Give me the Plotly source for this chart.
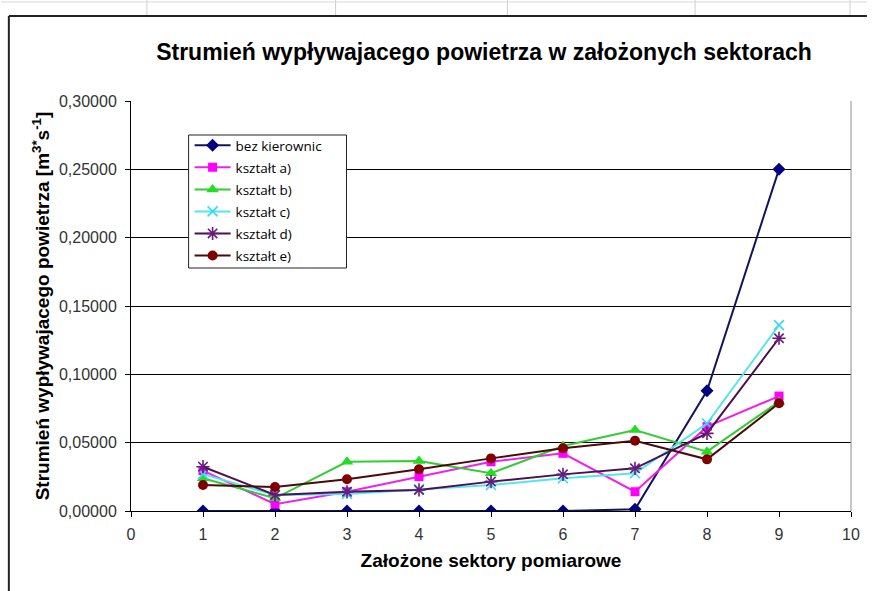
import plotly.graph_objects as go

sectors = [1, 2, 3, 4, 5, 6, 7, 8, 9]
bez_kierownic = [0.0, 0.0, 0.0, 0.0, 0.0, 0.0, 0.0012, 0.088, 0.250]
ksztalt_a = [0.0295, 0.005, 0.0141, 0.0251, 0.036, 0.0422, 0.0141, 0.0617, 0.0841]
ksztalt_b = [0.024, 0.0093, 0.036, 0.0365, 0.0276, 0.0476, 0.0593, 0.0434, 0.080]
ksztalt_c = [0.027, 0.0117, 0.0125, 0.016, 0.019, 0.024, 0.0276, 0.064, 0.136]
ksztalt_d = [0.0324, 0.0117, 0.014, 0.0154, 0.0215, 0.0268, 0.0312, 0.0568, 0.1264]
ksztalt_e = [0.019, 0.0175, 0.0232, 0.0305, 0.0385, 0.0459, 0.0514, 0.0378, 0.0788]

series = [
    ("bez kierownic", bez_kierownic, "#14145a", "#000080", "diamond", 10),
    ("kształt a)", ksztalt_a, "#ee22ee", "#ff00ff", "square", 9),
    ("kształt b)", ksztalt_b, "#33cc33", "#22dd22", "triangle-up", 11),
    ("kształt c)", ksztalt_c, "#55e5ee", "#33ddee", "x-thin-open", 10),
    ("kształt d)", ksztalt_d, "#4a1050", "#6a1a7a", "asterisk-open", 11),
    ("kształt e)", ksztalt_e, "#4a0a0a", "#800000", "circle", 10),
]

fig = go.Figure()
for i, (name, vals, lc, mc, sym, ms) in enumerate(series):
    marker = dict(symbol=sym, size=ms, color=mc)
    if sym.endswith("-open"):
        marker["line"] = dict(color=mc, width=1.6)
    fig.add_trace(go.Scatter(
        x=sectors, y=vals, name=name, mode="lines+markers",
        line=dict(color=lc, width=2), marker=marker, legendgroup=f"g{i}",
    ))

W, H = 872, 591
L, R, T, B = 131, 16, 101, 80
pw, ph = W - L - R, H - T - B

def px(x):
    return (x - L) / pw

def py(y):
    return (H - B - y) / ph

FONT = "Liberation Sans, Arial"

shapes = [
    dict(type="line", xref="paper", yref="paper", x0=px(8), x1=px(872), y0=py(16), y1=py(16),
         line=dict(color="#222", width=2)),
    dict(type="line", xref="paper", yref="paper", x0=px(8), x1=px(8), y0=py(16), y1=py(591),
         line=dict(color="#222", width=2)),
    dict(type="line", xref="paper", yref="paper", x0=px(0), x1=px(872), y0=py(2), y1=py(2),
         line=dict(color="#d8d8d8", width=1)),
    dict(type="line", xref="paper", yref="paper", x0=1, x1=1, y0=0, y1=1,
         line=dict(color="#909090", width=1)),
    # legend frame
    dict(type="rect", xref="paper", yref="paper", layer="above",
         x0=px(189), x1=px(348), y0=py(268), y1=py(135),
         fillcolor="white", line=dict(color="#222", width=1)),
]
for gx in [147, 337, 510, 699, 855]:
    shapes.append(dict(type="line", xref="paper", yref="paper", x0=px(gx), x1=px(gx),
                       y0=py(0), y1=py(15), line=dict(color="#d0d0d0", width=1)))

fig.update_layout(
    width=W, height=H,
    margin=dict(l=L, r=R, t=T, b=B),
    paper_bgcolor="white", plot_bgcolor="white",
    separators=", ",
    title=dict(text="<b>Strumień wypływajacego powietrza w założonych sektorach</b>",
               x=484 / W, xanchor="center", y=1 - 52 / H, yanchor="middle",
               font=dict(family=FONT, size=23, color="black")),
    xaxis=dict(range=[0, 10], dtick=1, tick0=0, showgrid=False, zeroline=False,
               showline=True, linecolor="black", linewidth=1,
               ticks="outside", ticklen=5, tickcolor="black", ticklabelstandoff=4,
               tickfont=dict(family=FONT, size=16, color="#333"),
               title=dict(text="<b>Założone sektory pomiarowe</b>", standoff=11,
                          font=dict(family=FONT, size=19, color="black"))),
    yaxis=dict(range=[0, 0.30], dtick=0.05, tickformat=".5f", showgrid=True,
               gridcolor="black", gridwidth=1, zeroline=False,
               showline=True, linecolor="black", linewidth=1,
               ticks="outside", ticklen=5, tickcolor="black", ticklabelstandoff=5,
               tickfont=dict(family=FONT, size=16, color="#333"),
               title=dict(text="<b>Strumień wypływajacego powietrza [m<sup>3*</sup>s<sup>-1</sup>]</b>",
                          standoff=4,
                          font=dict(family=FONT, size=19, color="black"))),
    legend=dict(x=px(190), y=py(130), xanchor="left", yanchor="top",
                bgcolor="rgba(0,0,0,0)", borderwidth=0,
                tracegroupgap=1.5, itemwidth=36,
                font=dict(family="Open Sans, DejaVu Sans", size=13.5, color="black")),
    shapes=shapes,
    showlegend=True,
)

fig.write_html("out.html", config={"displayModeBar": False},
               post_script="document.body.style.margin='0px';")
